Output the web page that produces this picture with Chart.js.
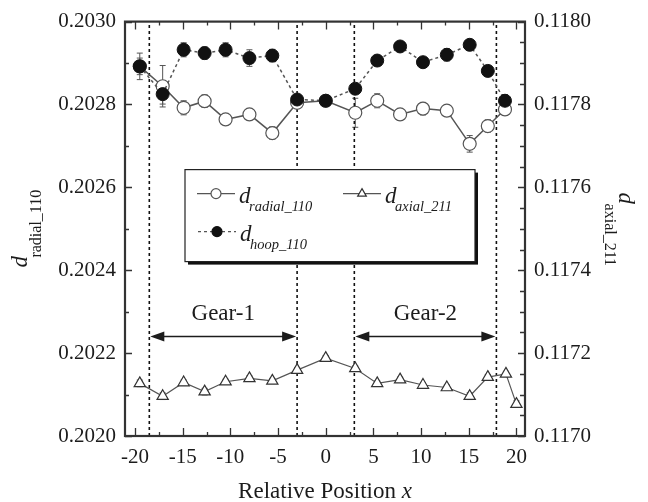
<!DOCTYPE html>
<html>
<head>
<meta charset="utf-8">
<script src="https://cdn.jsdelivr.net/npm/chart.js@4.4.0/dist/chart.umd.min.js"></script>
<style>
  html, body { margin: 0; padding: 0; background: #fff; }
  canvas { display: block; }
</style>
</head>
<body>
<canvas id="chart" width="648" height="502"></canvas>
<script>
// measurement positions along the gear pair
const positions = [-19.5, -17.1, -14.9, -12.7, -10.5, -8.0, -5.6, -3.0, 0, 3.1, 5.4, 7.8, 10.2, 12.7, 15.1, 17.0, 18.8]
const axialPositions = [-19.5, -17.1, -14.9, -12.7, -10.5, -8.0, -5.6, -3.0, 0, 3.1, 5.4, 7.8, 10.2, 12.7, 15.1, 17.0, 18.9, 20.0]

const dRadial = [0.202892, 0.202844, 0.202792, 0.202808, 0.202764, 0.202776, 0.202731, 0.202804, 0.202809,
    0.202780, 0.202809, 0.202776, 0.202790, 0.202785, 0.202705, 0.202748, 0.202788]
const dRadialErr = [0.00002, 0.00005, 0.000017, 0.000015, 0.00001, 0.00001, 0.000015, 0.00001, 0.00001,
    0.000035, 0.000017, 0.000012, 0.000015, 0.00001, 0.00002, 0.000015, 0.00001]

const dHoop = [0.202892, 0.202825, 0.202932, 0.202924, 0.202932, 0.202912, 0.202918, 0.202812, 0.202809,
    0.202838, 0.202906, 0.202940, 0.202902, 0.202920, 0.202944, 0.202881, 0.202809]
const dHoopErr = [0.000032, 0.000024, 0.000017, 0.000015, 0.000017, 0.00002, 0.000015, 0.000012, 0.000012,
    0.00001, 0.000012, 0.00001, 0.000012, 0.000015, 0.00001, 0.000012, 0.000015]

const dAxial = [0.117127, 0.117096, 0.117129, 0.117107, 0.117131, 0.117139, 0.117133, 0.117159, 0.117188,
    0.117163, 0.117127, 0.117136, 0.117123, 0.117117, 0.117096, 0.117142, 0.117150, 0.117077]
const dAxialErr = [0.000008, 0.000008, 0.000006, 0.000008, 0.000006, 0.000006, 0.000006, 0.000006, 0.000006,
    0.000006, 0.000006, 0.000006, 0.000006, 0.000006, 0.000008, 0.000006, 0.000006, 0.000008]

// gear boundaries and annotation levels
const boundaries = [-18.5, -3.0, 3.0, 17.9]
const gearLabels = ['Gear-1', 'Gear-2']
const arrowLevel = 0.20224
const gearLabelLevel = 0.20228

const xRange = [-21.05, 20.9]
const leftRange = [0.2020, 0.2030]
const rightRange = [0.1170, 0.1180]

const serif = "'Liberation Serif', 'Times New Roman', serif"
const ink = '#1c1c1c'

const pts = (xs, ys) => xs.map((x, i) => ({ x: x, y: ys[i] }))

const datasets = [
    {
        label: 'd_hoop_110',
        data: pts(positions, dHoop),
        yAxisID: 'y',
        borderColor: '#555',
        borderWidth: 1.5,
        borderDash: [3, 3],
        pointRadius: 6.5,
        pointBackgroundColor: '#111',
        pointBorderColor: '#111',
        pointBorderWidth: 1,
        errors: dHoopErr,
        order: 0,
    },
    {
        label: 'd_radial_110',
        data: pts(positions, dRadial),
        yAxisID: 'y',
        borderColor: '#555',
        borderWidth: 1.5,
        pointRadius: 6.5,
        pointBackgroundColor: '#fff',
        pointBorderColor: '#555',
        pointBorderWidth: 1.2,
        errors: dRadialErr,
        order: 1,
    },
    {
        label: 'd_axial_211',
        data: pts(axialPositions, dAxial),
        yAxisID: 'y1',
        borderColor: '#555',
        borderWidth: 1.2,
        pointStyle: 'triangle',
        pointRadius: 6.5,
        pointBackgroundColor: '#fff',
        pointBorderColor: '#333',
        pointBorderWidth: 1.2,
        errors: dAxialErr,
        order: 2,
    },
]

boundaries.forEach(function (b) {
    datasets.push({
        label: 'boundary',
        data: [{ x: b, y: leftRange[0] }, { x: b, y: leftRange[1] }],
        yAxisID: 'y',
        borderColor: '#111',
        borderWidth: 1.6,
        borderDash: [3, 3],
        pointRadius: 0,
        order: 3,
    })
})

function drawErrorBars(chart) {
    const ctx = chart.ctx
    ctx.save()
    chart.data.datasets.forEach(function (ds, di) {
        if (!ds.errors) return
        const xs = chart.scales.x
        const ys = chart.scales[ds.yAxisID]
        ctx.strokeStyle = '#555'
        ctx.lineWidth = 1
        ds.data.forEach(function (p, i) {
            const px = xs.getPixelForValue(p.x)
            const top = ys.getPixelForValue(p.y + ds.errors[i])
            const bot = ys.getPixelForValue(p.y - ds.errors[i])
            ctx.beginPath()
            ctx.moveTo(px, top); ctx.lineTo(px, bot)
            ctx.moveTo(px - 3, top); ctx.lineTo(px + 3, top)
            ctx.moveTo(px - 3, bot); ctx.lineTo(px + 3, bot)
            ctx.stroke()
        })
    })
    ctx.restore()
}

function drawFrameAndTicks(chart) {
    const ctx = chart.ctx
    const a = chart.chartArea
    const x = chart.scales.x, yl = chart.scales.y, yr = chart.scales.y1
    ctx.save()
    ctx.strokeStyle = '#333'
    ctx.lineWidth = 1.3
    ctx.beginPath()
    for (let v = -20; v <= 20; v += 2.5) {
        const px = Math.round(x.getPixelForValue(v)) + 0.5
        const len = v % 5 === 0 ? 8 : 4
        ctx.moveTo(px, a.bottom); ctx.lineTo(px, a.bottom - len)
        ctx.moveTo(px, a.top); ctx.lineTo(px, a.top + len)
    }
    for (let i = 0; i <= 10; i++) {
        const py = Math.round(yl.getPixelForValue(leftRange[0] + i * 0.0001)) + 0.5
        ctx.moveTo(a.left, py); ctx.lineTo(a.left + (i % 2 === 0 ? 7 : 4), py)
    }
    for (let i = 0; i <= 20; i++) {
        const py = Math.round(yr.getPixelForValue(rightRange[0] + i * 0.00005)) + 0.5
        ctx.moveTo(a.right, py); ctx.lineTo(a.right - (i % 4 === 0 ? 7 : 5), py)
    }
    ctx.stroke()
    ctx.lineWidth = 2.2
    ctx.strokeRect(a.left, a.top, a.right - a.left, a.bottom - a.top)
    ctx.restore()
}

function arrowHead(ctx, x, y, dir) {
    ctx.beginPath()
    ctx.moveTo(x, y)
    ctx.lineTo(x - dir * 14, y - 5)
    ctx.lineTo(x - dir * 14, y + 5)
    ctx.closePath()
    ctx.fill()
}

function drawGears(chart) {
    const ctx = chart.ctx
    const x = chart.scales.x, y = chart.scales.y
    ctx.save()
    ctx.strokeStyle = ink
    ctx.fillStyle = ink
    ctx.lineWidth = 1.5
    const py = y.getPixelForValue(arrowLevel)
    const ly = y.getPixelForValue(gearLabelLevel)
    for (let g = 0; g < 2; g++) {
        const x0 = x.getPixelForValue(boundaries[g * 2]) + 1
        const x1 = x.getPixelForValue(boundaries[g * 2 + 1]) - 1
        ctx.beginPath()
        ctx.moveTo(x0 + 6, py); ctx.lineTo(x1 - 6, py)
        ctx.stroke()
        arrowHead(ctx, x0, py, -1)
        arrowHead(ctx, x1, py, 1)
        ctx.font = '23px ' + serif
        ctx.textAlign = 'center'
        ctx.textBaseline = 'alphabetic'
        ctx.fillText(gearLabels[g], (x0 + x1) / 2, ly)
    }
    ctx.restore()
}

function subLabel(ctx, main, sub, subDx, subDy, mainFont, subFont) {
    ctx.font = mainFont
    ctx.fillText(main, 0, 0)
    ctx.font = subFont
    ctx.fillText(sub, subDx, subDy)
}

function drawLegend(chart) {
    const ctx = chart.ctx
    const a = chart.chartArea
    const bx = a.left + 60, by = a.top + 148, bw = 290, bh = 92
    ctx.save()
    ctx.fillStyle = '#111'
    ctx.fillRect(bx + 3, by + 3, bw, bh)
    ctx.fillStyle = '#fff'
    ctx.fillRect(bx, by, bw, bh)
    ctx.strokeStyle = '#222'
    ctx.lineWidth = 1.2
    ctx.strokeRect(bx, by, bw, bh)

    const mainFont = 'italic 23px ' + serif
    const subFont = 'italic 14.5px ' + serif
    const entries = [
        { sx: bx + 12, sy: by + 24, ds: datasets[1], sub: 'radial_110' },
        { sx: bx + 158, sy: by + 24, ds: datasets[2], sub: 'axial_211' },
        { sx: bx + 13, sy: by + 62, ds: datasets[0], sub: 'hoop_110' },
    ]
    entries.forEach(function (e) {
        const ds = e.ds
        ctx.strokeStyle = ds.borderColor
        ctx.lineWidth = 1.3
        ctx.setLineDash(ds.borderDash || [])
        ctx.beginPath()
        ctx.moveTo(e.sx, e.sy); ctx.lineTo(e.sx + 38, e.sy)
        ctx.stroke()
        ctx.setLineDash([])
        ctx.fillStyle = ds.pointBackgroundColor
        ctx.strokeStyle = ds.pointBorderColor
        ctx.lineWidth = 1.2
        Chart.helpers.drawPoint(ctx, { pointStyle: ds.pointStyle || 'circle', radius: 5, borderWidth: 1.2, rotation: 0 }, e.sx + 19, e.sy)
        ctx.fillStyle = ink
        ctx.textAlign = 'left'
        ctx.textBaseline = 'alphabetic'
        ctx.save()
        ctx.translate(e.sx + 42, e.sy + 9.5)
        subLabel(ctx, 'd', e.sub, 10, 8, mainFont, subFont)
        ctx.restore()
    })
    ctx.restore()
}

function drawTitles(chart) {
    const ctx = chart.ctx
    const a = chart.chartArea
    ctx.save()
    ctx.fillStyle = ink
    ctx.textAlign = 'left'
    ctx.textBaseline = 'alphabetic'
    const mainFont = 'italic 23px ' + serif
    const subFont = '16px ' + serif

    // left title, reading upward
    ctx.save()
    ctx.translate(27, a.top + 246)
    ctx.rotate(-Math.PI / 2)
    subLabel(ctx, 'd', 'radial_110', 10, 14, mainFont, subFont)
    ctx.restore()

    // right title, reading downward
    ctx.save()
    ctx.translate(619, a.top + 171)
    ctx.rotate(Math.PI / 2)
    subLabel(ctx, 'd', 'axial_211', 11, 14, mainFont, subFont)
    ctx.restore()

    // bottom title
    const t1 = 'Relative Position '
    ctx.font = '23px ' + serif
    const w1 = ctx.measureText(t1).width
    ctx.font = 'italic 23px ' + serif
    const w2 = ctx.measureText('x').width
    const cx = (a.left + a.right) / 2
    const sx = cx - (w1 + w2) / 2
    ctx.font = '23px ' + serif
    ctx.fillText(t1, sx, 498)
    ctx.font = 'italic 23px ' + serif
    ctx.fillText('x', sx + w1, 498)
    ctx.restore()
}

const decor = {
    id: 'decor',
    beforeDatasetsDraw(chart) {
        drawErrorBars(chart)
    },
    afterDatasetsDraw(chart) {
        drawFrameAndTicks(chart)
        drawGears(chart)
        drawLegend(chart)
        drawTitles(chart)
    },
}

const tickFont = { family: serif, size: 21 }

new Chart(document.getElementById('chart'), {
    type: 'line',
    data: { datasets: datasets },
    options: {
        responsive: false,
        animation: false,
        parsing: true,
        layout: { padding: { top: 20, left: 0, right: 0, bottom: 0 } },
        plugins: {
            legend: { display: false },
            tooltip: { enabled: false },
        },
        scales: {
            x: {
                type: 'linear',
                min: xRange[0],
                max: xRange[1],
                grid: { display: false, drawTicks: false },
                border: { display: false },
                ticks: { stepSize: 5, includeBounds: false, padding: 9, color: ink, font: tickFont, maxRotation: 0 },
                afterFit(scale) { scale.height = 66 },
            },
            y: {
                type: 'linear',
                position: 'left',
                min: leftRange[0],
                max: leftRange[1],
                grid: { display: false, drawTicks: false },
                border: { display: false },
                ticks: { stepSize: 0.0002, padding: 9, color: ink, font: tickFont, callback: v => v.toFixed(4) },
                afterFit(scale) { scale.width = 125 },
            },
            y1: {
                type: 'linear',
                position: 'right',
                min: rightRange[0],
                max: rightRange[1],
                grid: { display: false, drawTicks: false },
                border: { display: false },
                ticks: { stepSize: 0.0002, padding: 9, color: ink, font: tickFont, callback: v => v.toFixed(4) },
                afterFit(scale) { scale.width = 123 },
            },
        },
    },
    plugins: [decor],
})
</script>
</body>
</html>
